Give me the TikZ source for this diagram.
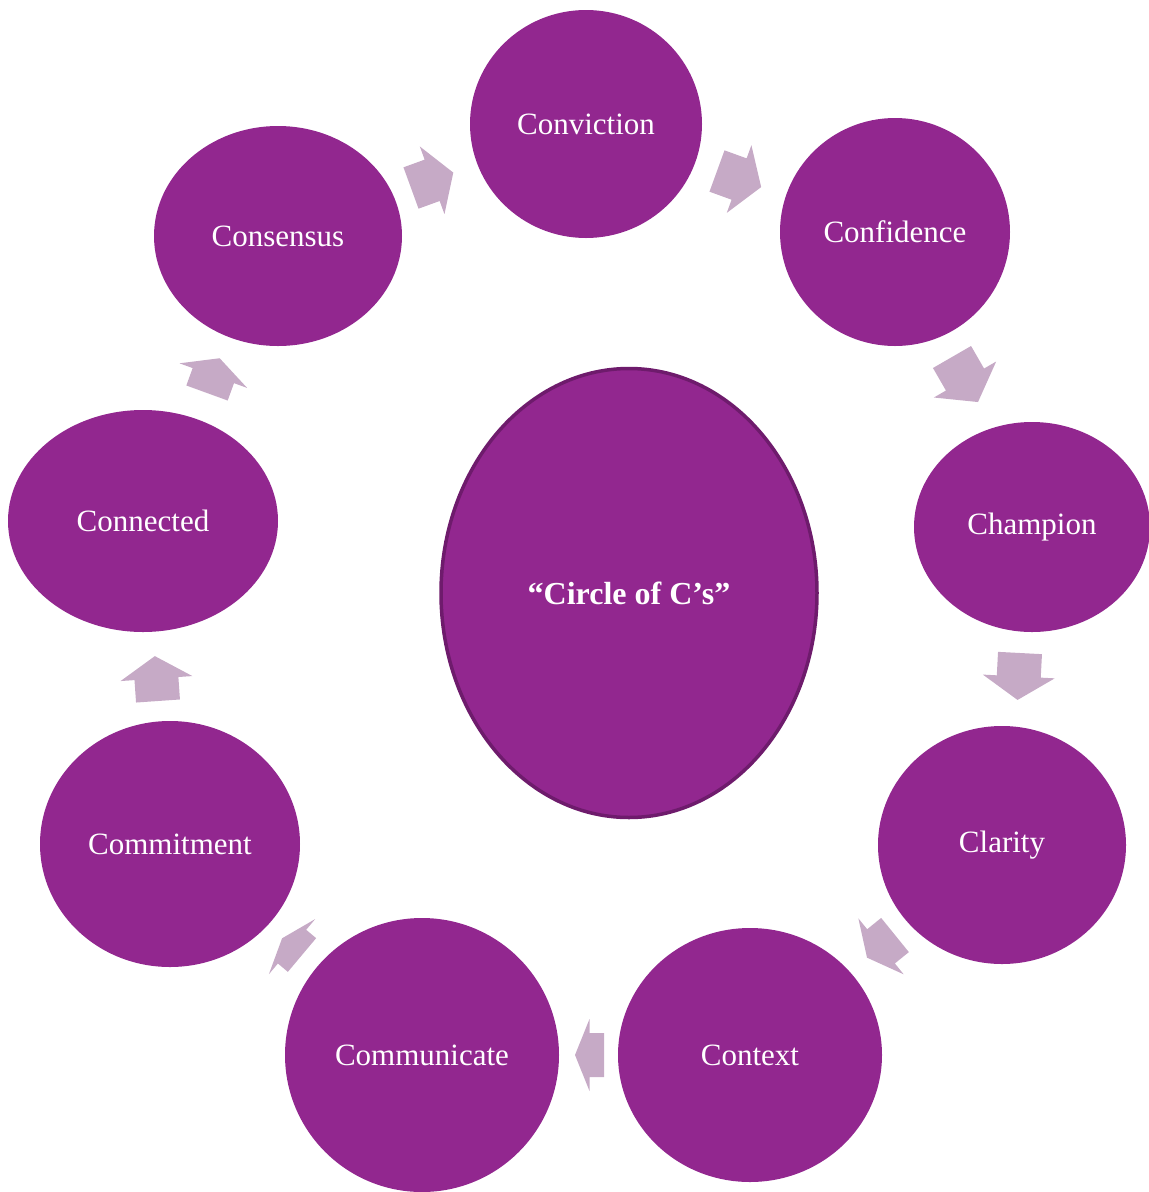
\documentclass[tikz,border=0pt]{standalone}
\usepackage{fontspec}
\setmainfont{Liberation Serif}
\usetikzlibrary{shapes.geometric}
\definecolor{cpurple}{RGB}{146,39,143}
\definecolor{cborder}{RGB}{110,27,108}
\definecolor{carrow}{RGB}{198,170,198}
\tikzset{
  cnode/.style={ellipse, fill=cpurple, text=white, inner sep=0pt,
    font=\fontsize{31}{36}\selectfont},
  hub/.style={ellipse, fill=cpurple, draw=cborder, line width=3.5pt, text=white, inner sep=0pt,
    font=\fontsize{32}{38}\selectfont\bfseries},
  arrowfill/.style={fill=carrow}
}
% block arrow: back-middle x, y, angle, length
\newcommand\blockarr[4]{%
  \fill[arrowfill, shift={(#1,#2)}, rotate=#3]
    (0,-22) -- ({#4/2},-22) -- ({#4/2},-36) -- (#4,0) -- ({#4/2},36) -- ({#4/2},22) -- (0,22) -- cycle;}
\begin{document}
\begin{tikzpicture}[x=1pt,y=-1pt]
\useasboundingbox (0,0) rectangle (1149,1192);
\node[hub, minimum width=376pt, minimum height=449pt] (hub) at (629,593) {“Circle of C’s”};
\node[cnode, minimum width=232pt, minimum height=228pt] (conviction) at (586,124) {Conviction};
\node[cnode, minimum width=230pt, minimum height=228pt] (confidence) at (895,232) {Confidence};
\node[cnode, minimum width=236pt, minimum height=210pt] (champion) at (1032,527) {Champion};
\node[cnode, minimum width=248pt, minimum height=238pt] (clarity) at (1002,845) {Clarity};
\node[cnode, minimum width=264pt, minimum height=254pt] (context) at (750,1055) {Context};
\node[cnode, minimum width=274pt, minimum height=274pt] (communicate) at (422,1055) {Communicate};
\node[cnode, minimum width=260pt, minimum height=246pt] (commitment) at (170,844) {Commitment};
\node[cnode, minimum width=270pt, minimum height=222pt] (connected) at (143,521) {Connected};
\node[cnode, minimum width=248pt, minimum height=220pt] (consensus) at (278,236) {Consensus};
% arrows
\blockarr{411}{188}{20}{45}
\blockarr{717}{171}{-20}{47}
\blockarr{952}{357}{-60}{52}
\blockarr{1020}{653}{-93}{47}
\blockarr{895}{935}{219}{36}
\blockarr{604}{1055}{180}{29}
\blockarr{302}{955}{140}{26}
\blockarr{158}{701}{94}{45}
\blockarr{207}{393}{70}{37}
\end{tikzpicture}
\end{document}
